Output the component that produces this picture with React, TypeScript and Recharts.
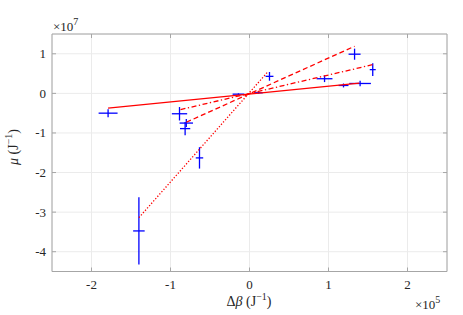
import { ScatterChart, Scatter, XAxis, YAxis, CartesianGrid, ErrorBar, ReferenceArea } from "recharts";

// values in display units: x in 1e5 J^-1, y in 1e7 J^-1
const pointX = [-1.79, -0.886, -0.8, -0.815, -0.633, -1.4, -0.14, 0.115, 0.253, 0.95, 1.19, 1.4, 1.33, 1.56];
const pointY = [-0.5, -0.515, -0.75, -0.89, -1.63, -3.475, -0.02, 0.015, 0.43, 0.37, 0.2, 0.25, 0.99, 0.6];
const errX = [0.12, 0.097, 0.085, 0.065, 0.047, 0.073, 0.074, 0.053, 0.05, 0.1, 0.063, 0.137, 0.076, 0.038];
const errY = [0.1, 0.17, 0.1, 0.17, 0.27, 0.85, 0.02, 0.02, 0.11, 0.085, 0.05, 0.07, 0.14, 0.16];

const solidX = [-1.79, 1.39];
const solidY = [-0.373, 0.26];
const dashedX = [-0.8, 1.33];
const dashedY = [-0.73, 1.19];
const dashDotX = [-0.873, 1.57];
const dashDotY = [-0.41, 0.73];
const dottedX = [-1.4, 0.23];
const dottedY = [-3.14, 0.54];

const xTicks = [-2, -1, 0, 1, 2];
const yTicks = [-4, -3, -2, -1, 0, 1];

const W = 463;
const H = 315;
const PLOT_TOP = 34;
const PLOT_RIGHT = 447;
const BOX = "#a6a6a6";
const TXT = "#262626";
const FONT = "Liberation Serif, Times New Roman, serif";
const txtStyle = { fontFamily: FONT };

const points = pointX.map((x, i) => ({ x, y: pointY[i], ex: errX[i], ey: errY[i] }));
const seg = (xs: number[], ys: number[]) => xs.map((x, i) => ({ x, y: ys[i] }));

const fits = [
  { data: seg(solidX, solidY), dash: undefined },
  { data: seg(dashedX, dashedY), dash: "5 3" },
  { data: seg(dashDotX, dashDotY), dash: "5 2.5 1.3 2.5" },
  { data: seg(dottedX, dottedY), dash: "1.3 1.8" },
];

const Nothing = () => <g />;

function XTick(props: any) {
  const { x, y, payload } = props;
  return (
    <g>
      <line x1={x} y1={y} x2={x} y2={y - 4} stroke={BOX} />
      <line x1={x} y1={PLOT_TOP} x2={x} y2={PLOT_TOP + 4} stroke={BOX} />
      <text x={x} y={y + 17} textAnchor="middle" fill={TXT} fontSize={13} style={txtStyle}>
        {payload.value}
      </text>
    </g>
  );
}

function YTick(props: any) {
  const { x, y, payload } = props;
  return (
    <g>
      <line x1={x} y1={y} x2={x + 4} y2={y} stroke={BOX} />
      <line x1={PLOT_RIGHT} y1={y} x2={PLOT_RIGHT - 4} y2={y} stroke={BOX} />
      <text x={x - 6} y={y + 4.5} textAnchor="end" fill={TXT} fontSize={13} style={txtStyle}>
        {payload.value}
      </text>
    </g>
  );
}

export default function App() {
  return (
    <div style={{ position: "absolute", left: 0, top: 0, width: W, height: H, background: "#fff", fontFamily: FONT }}>
      <ScatterChart width={W} height={H} margin={{ top: PLOT_TOP, right: W - PLOT_RIGHT, bottom: 0, left: 0 }}>
        <CartesianGrid stroke="#ebebeb" />
        <XAxis
          type="number"
          dataKey="x"
          domain={[-2.5, 2.5]}
          ticks={xTicks}
          height={43.5}
          tickSize={0}
          tickMargin={0}
          axisLine={false}
          tickLine={false}
          tick={<XTick />}
          allowDataOverflow
        />
        <YAxis
          type="number"
          dataKey="y"
          domain={[-4.5, 1.5]}
          ticks={yTicks}
          width={52}
          tickSize={0}
          tickMargin={0}
          axisLine={false}
          tickLine={false}
          tick={<YTick />}
          allowDataOverflow
        />
        <ReferenceArea x1={-2.5} x2={2.5} y1={-4.5} y2={1.5} fill="none" stroke={BOX} strokeWidth={1} />
        {fits.map((f, i) => (
          <Scatter
            key={i}
            data={f.data}
            shape={<Nothing />}
            line={{ stroke: "#ff0000", strokeWidth: 1.3, strokeDasharray: f.dash }}
            isAnimationActive={false}
          />
        ))}
        <Scatter data={points} shape={<Nothing />} isAnimationActive={false}>
          <ErrorBar dataKey="ex" direction="x" width={0} stroke="#0000ff" strokeWidth={1.3} />
          <ErrorBar dataKey="ey" direction="y" width={0} stroke="#0000ff" strokeWidth={1.3} />
        </Scatter>
      </ScatterChart>
      <svg width={W} height={H} style={{ position: "absolute", left: 0, top: 0, pointerEvents: "none" }}>
        <g fill={TXT} style={txtStyle}>
          <text x={53} y={31} fontSize={13}>
            ×10<tspan fontSize={10} dy={-6}>7</tspan>
          </text>
          <text x={415} y={309} fontSize={13}>
            ×10<tspan fontSize={10} dy={-6}>5</tspan>
          </text>
          <text x={249} y={306} fontSize={14} textAnchor="middle">
            Δ<tspan fontStyle="italic">β</tspan> (J<tspan fontSize={10} dy={-6}>−1</tspan>
            <tspan dy={6}>)</tspan>
          </text>
          <text x={0} y={0} fontSize={14} textAnchor="middle" transform="translate(18,147) rotate(-90)">
            <tspan fontStyle="italic">μ</tspan> (J<tspan fontSize={10} dy={-6}>−1</tspan>
            <tspan dy={6}>)</tspan>
          </text>
        </g>
      </svg>
    </div>
  );
}
